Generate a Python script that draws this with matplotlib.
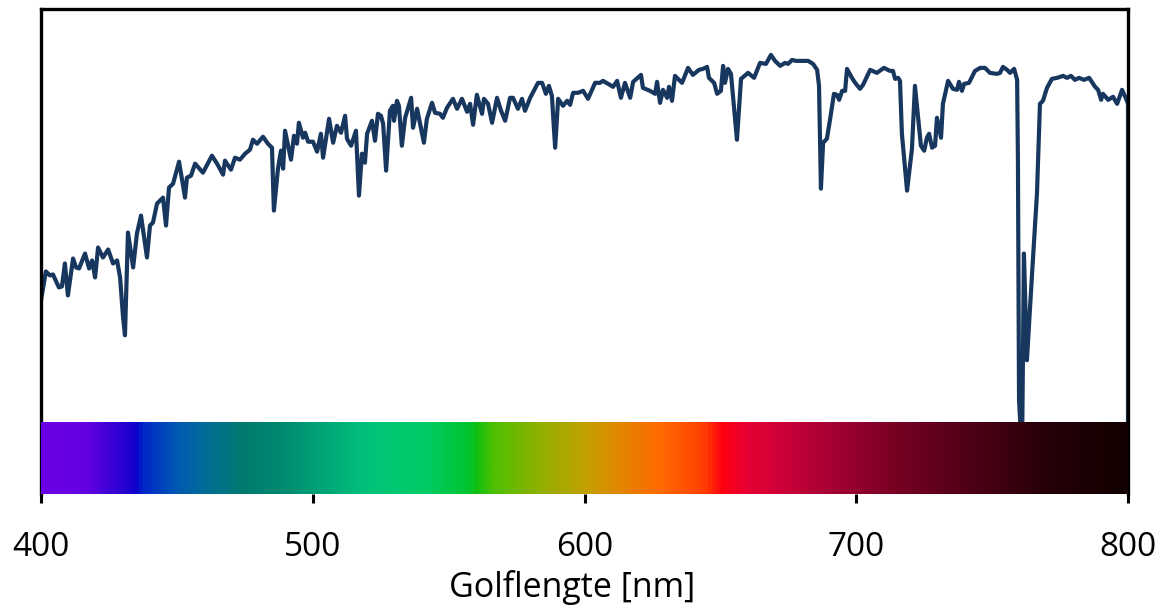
import numpy as np
import matplotlib
matplotlib.use("Agg")
import matplotlib.pyplot as plt
from matplotlib.colors import LinearSegmentedColormap

# spectrum: wavelength [nm], intensity [arbitrary units]
wavelength = [
    400.0, 401.8, 403.3, 404.4, 406.6, 407.7, 408.8, 409.9, 411.8, 412.9,
    414.0, 416.2, 417.7, 418.8, 419.9, 421.0, 422.8, 424.7, 426.5, 428.0,
    429.1, 430.2, 430.9, 432.0, 432.8, 433.9, 435.3, 436.8, 439.0, 440.1,
    441.2, 442.7, 443.8, 444.9, 446.0, 447.1, 448.6, 450.8, 453.0, 453.7,
    455.2, 456.7, 459.6, 462.9, 464.8, 467.0, 467.7, 469.9, 471.4, 473.2,
    475.1, 476.9, 478.0, 479.5, 481.7, 483.5, 485.0, 485.7, 487.2, 488.3,
    489.1, 489.8, 492.0, 493.1, 494.2, 494.9, 496.4, 497.2, 498.3, 500.1,
    501.6, 503.0, 503.8, 506.0, 507.5, 508.9, 510.4, 511.9, 512.6, 514.1,
    515.9, 517.0, 518.1, 519.2, 520.0, 521.8, 522.9, 524.0, 525.1, 525.9,
    527.0, 528.4, 529.5, 529.9, 531.0, 531.7, 532.8, 534.0, 536.2, 536.9,
    538.4, 540.9, 542.0, 543.9, 545.0, 546.8, 547.9, 549.4, 551.6, 553.1,
    554.9, 556.8, 557.9, 559.0, 560.4, 562.3, 563.0, 564.5, 566.0, 567.8,
    569.3, 570.8, 572.6, 573.7, 575.5, 577.0, 578.1, 580.0, 582.9, 584.4,
    585.8, 586.9, 588.0, 589.2, 590.3, 592.1, 593.6, 594.7, 595.8, 597.6,
    599.5, 601.3, 603.9, 605.7, 606.8, 608.7, 610.5, 612.0, 613.4, 614.9,
    616.8, 617.9, 620.8, 621.5, 624.1, 626.0, 626.7, 627.8, 628.9, 630.4,
    631.1, 632.2, 633.3, 634.4, 635.9, 638.1, 639.9, 642.1, 643.6, 645.1,
    645.8, 647.7, 648.8, 650.2, 651.0, 651.7, 652.8, 653.9, 656.1, 657.6,
    660.2, 662.4, 664.6, 666.8, 668.6, 670.1, 672.0, 673.8, 674.9, 676.4,
    677.8, 679.3, 682.3, 684.1, 685.6, 686.3, 687.0, 687.8, 689.2, 690.4,
    691.8, 692.9, 693.7, 694.8, 695.9, 696.6, 698.4, 699.6, 701.4, 702.5,
    705.1, 707.6, 710.2, 712.4, 713.5, 714.3, 715.4, 716.1, 716.8, 718.7,
    720.5, 721.6, 723.8, 725.0, 726.0, 726.8, 727.9, 729.0, 729.7, 731.2,
    731.9, 733.8, 735.6, 737.1, 737.8, 738.9, 739.7, 741.5, 743.7, 745.6,
    747.4, 749.2, 751.8, 752.9, 754.0, 755.5, 756.6, 758.1, 759.2, 759.5,
    759.9, 761.0, 761.7, 762.8, 764.7, 766.5, 767.6, 768.7, 770.2, 772.0,
    773.9, 776.1, 777.6, 779.0, 780.5, 782.0, 783.8, 785.7, 787.9, 789.0,
    790.1, 790.8, 792.7, 794.5, 796.0, 797.8, 799.3, 800.0, 800.0,
]
intensity = [
    194, 223, 219, 220, 207, 208, 231, 199, 236, 227,
    226, 241, 226, 234, 217, 247, 237, 245, 231, 234,
    217, 177, 159, 262, 247, 227, 261, 279, 237, 269,
    272, 291, 294, 297, 269, 307, 311, 333, 297, 317,
    319, 331, 322, 339, 331, 320, 334, 325, 337, 335,
    341, 345, 355, 351, 358, 351, 347, 284, 326, 344,
    326, 364, 335, 359, 351, 372, 357, 362, 353, 353,
    343, 361, 337, 376, 352, 369, 362, 379, 356, 349,
    364, 299, 341, 332, 361, 374, 354, 381, 379, 371,
    324, 384, 389, 374, 394, 389, 349, 377, 397, 367,
    386, 352, 376, 392, 382, 381, 377, 387, 396, 386,
    396, 383, 391, 370, 400, 381, 396, 391, 372, 397,
    384, 374, 397, 397, 386, 396, 384, 397, 412, 412,
    401, 409, 399, 347, 396, 389, 394, 390, 402, 402,
    404, 396, 412, 412, 414, 411, 408, 414, 397, 412,
    397, 413, 420, 407, 404, 401, 413, 392, 405, 397,
    408, 394, 419, 416, 412, 427, 420, 425, 426, 428,
    417, 412, 401, 404, 429, 412, 426, 421, 355, 416,
    422, 417, 432, 431, 440, 434, 429, 432, 431, 435,
    434, 434, 434, 431, 425, 409, 306, 352, 356, 376,
    401, 400, 395, 404, 404, 426, 417, 412, 406, 410,
    425, 422, 427, 424, 424, 416, 417, 414, 361, 304,
    346, 409, 349, 344, 357, 361, 347, 349, 377, 357,
    391, 414, 406, 405, 413, 404, 411, 412, 424, 427,
    427, 422, 421, 422, 428, 425, 422, 426, 415, 334,
    94, 40, 241, 134, 221, 301, 391, 394, 407, 416,
    417, 419, 417, 419, 415, 417, 415, 417, 408, 405,
    395, 401, 395, 398, 391, 405, 396, 391, 0,
]

# colour strip under the spectrum: wavelength node -> colour
strip_nm = [400, 416, 433, 435, 437, 449, 459, 467, 474, 488, 505, 521,
            541, 557, 560, 567, 583, 601, 612, 628, 644, 651, 660,
            675, 694, 715, 742, 769, 797, 800]
strip_colors = ["#6a00e4", "#6400e0", "#1800cc", "#0808cc", "#0028c8",
                "#0058b4", "#006c98", "#007484", "#007a6e", "#008a70",
                "#00a878", "#00c47a", "#00cc66", "#00c430", "#10c010",
                "#50c000", "#90b000", "#c4a000", "#e08800", "#ff6a00",
                "#ff4000", "#ff0012", "#e80034", "#c80038", "#a00032",
                "#780022", "#500016", "#280008", "#140000", "#120000"]

x_ticks = [400, 500, 600, 700, 800]
x_label = "Golflengte [nm]"

plt.rcParams["font.family"] = ["Open Sans", "DejaVu Sans"]

fig = plt.figure(figsize=(11.62, 6.07), dpi=100)
ax = fig.add_axes([41 / 1162, 1 - 494 / 607, 1087 / 1162, 485 / 607])

ax.plot(wavelength, intensity, color="#17375E", linewidth=3.0, zorder=2,
        solid_joinstyle="round")

pos = [(n - strip_nm[0]) / (strip_nm[-1] - strip_nm[0]) for n in strip_nm]
cmap = LinearSegmentedColormap.from_list("spectrum", list(zip(pos, strip_colors)))
grad = np.linspace(0, 1, 800).reshape(1, -1)
ax.imshow(grad, cmap=cmap, aspect="auto", extent=(400, 800, 0, 72), zorder=3,
          interpolation="bilinear")

ax.set_xlim(400, 800)
ax.set_ylim(0, 486)
ax.set_xticks(x_ticks)
ax.set_yticks([])
ax.tick_params(axis="x", direction="out", length=6.5, width=2.2,
               labelsize=24, pad=20)
ax.set_xlabel(x_label, fontsize=24.5, labelpad=4.5)
ax.xaxis.label.set_x(0.4885)

for side in ["left", "right", "top"]:
    ax.spines[side].set_linewidth(2.4)
    ax.spines[side].set_color("black")
ax.spines["bottom"].set_visible(False)

fig.savefig("out.png", dpi=100)
